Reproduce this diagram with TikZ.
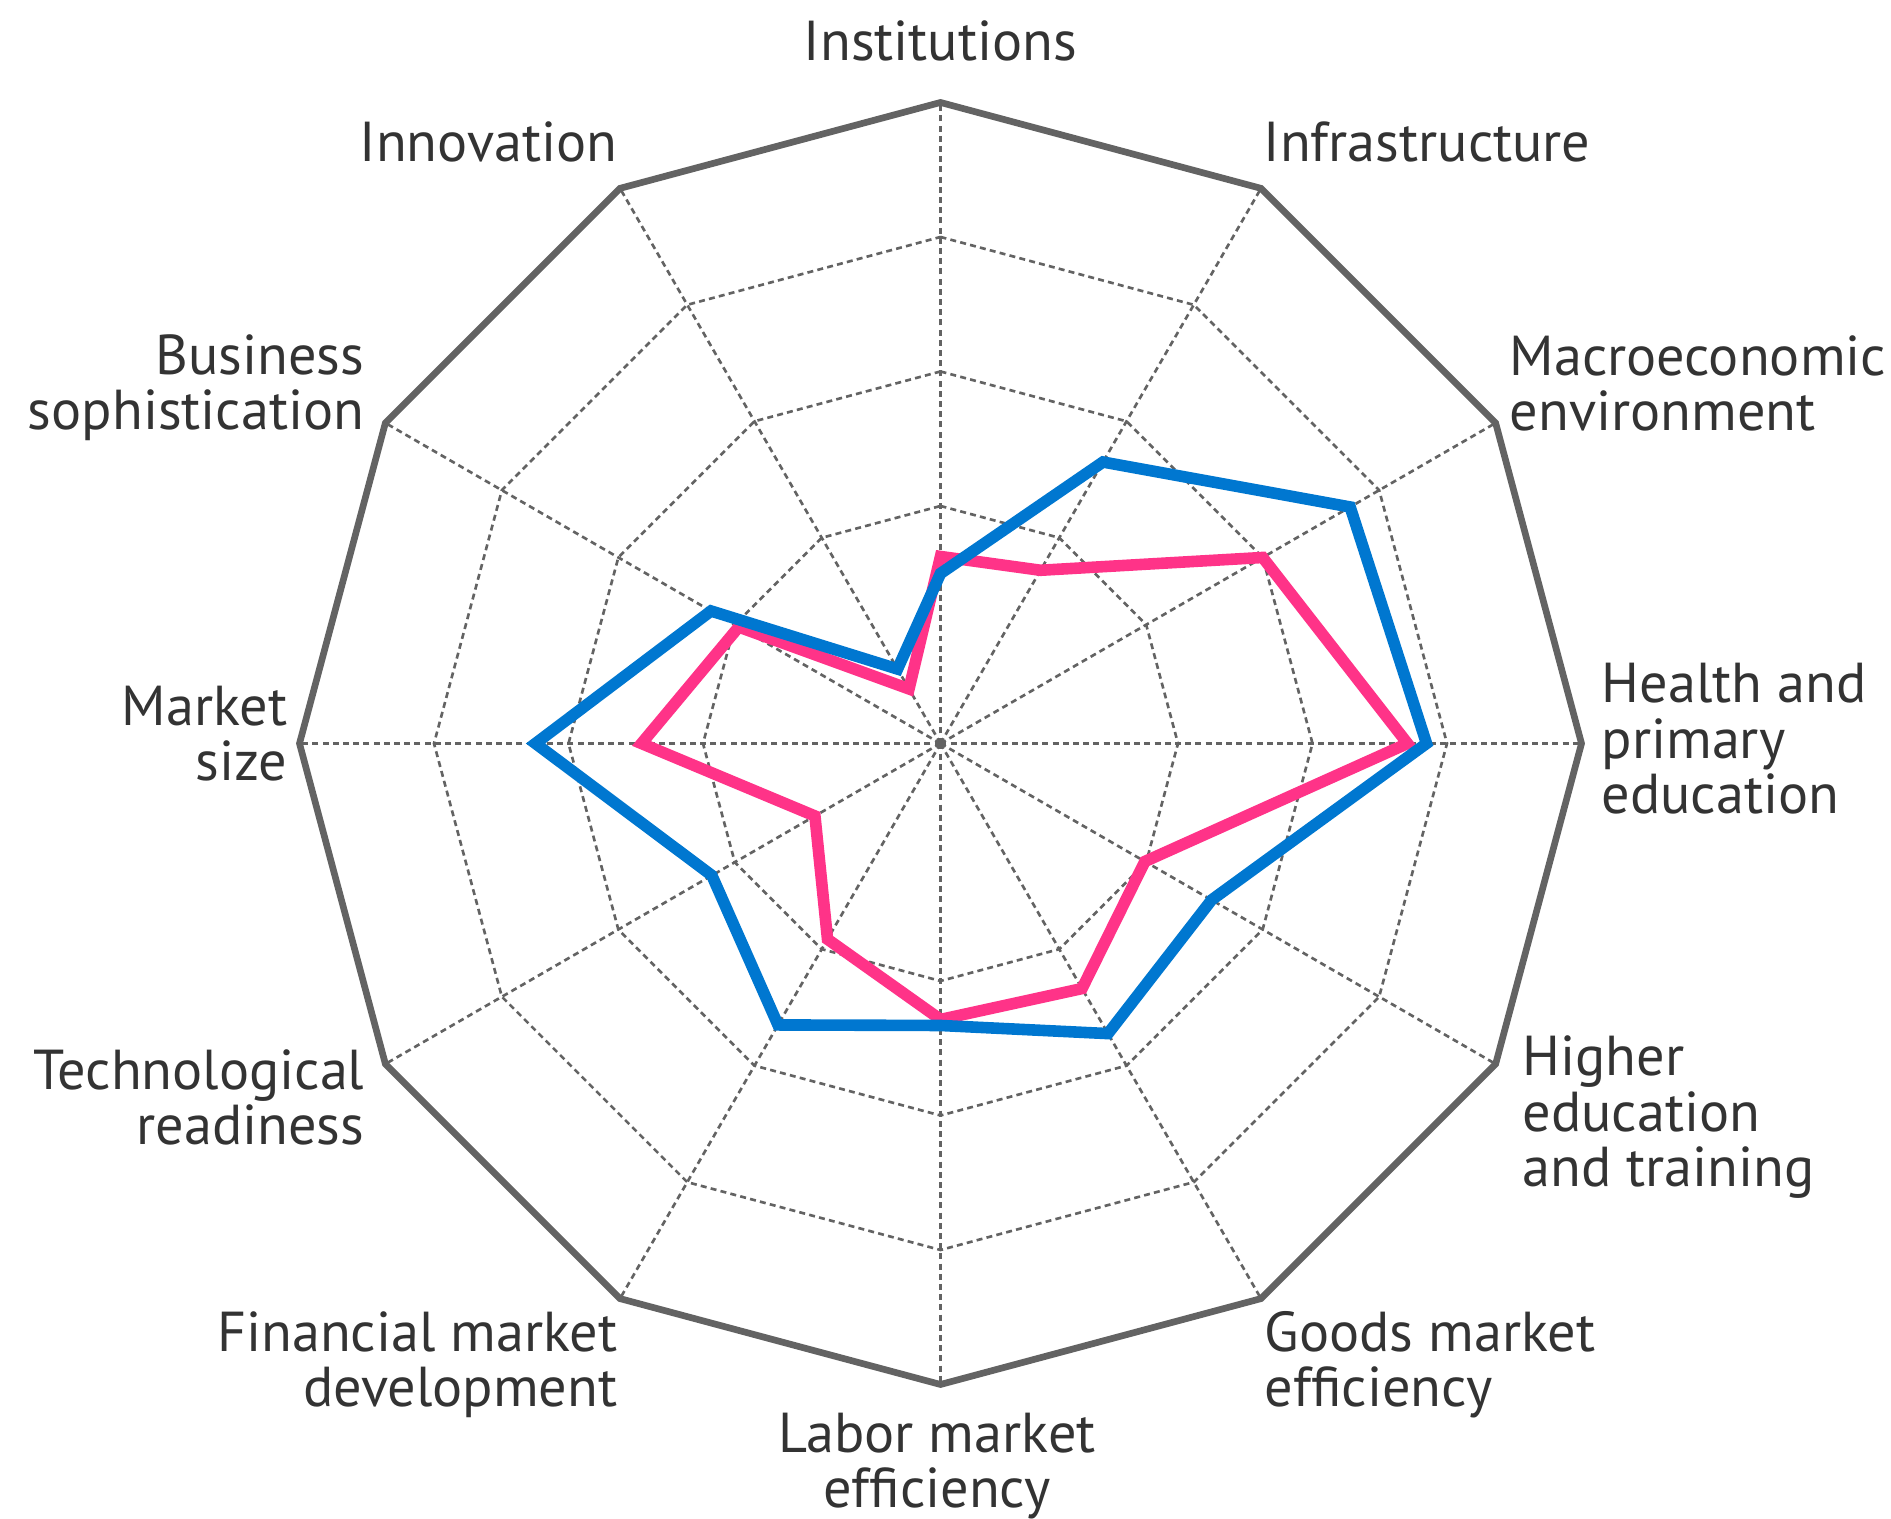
\documentclass[tikz,border=0pt]{standalone}
\usepackage{fontspec}
\setmainfont{PT Sans}
\definecolor{gciblue}{RGB}{0,119,208}
\definecolor{gcipink}{RGB}{255,51,136}
\definecolor{gridgray}{RGB}{99,99,99}
\definecolor{labelgray}{RGB}{51,51,51}
\tikzset{
	spoke/.style={draw=gridgray, line width=0.75pt, dash pattern=on 1.7pt off 1.2pt},
	rim/.style={draw=gridgray, line width=1.9pt, line join=miter},
	series/.style={line width=3.3pt, line join=miter},
	pillar/.style={text=labelgray, font=\fontsize{16}{15.9}\selectfont, inner sep=0pt},
}
\begin{document}
\begin{tikzpicture}[x=0.01cm, y=0.01cm]
		\useasboundingbox (0,0) rectangle (1891,1519);
		\begin{scope}[shift={(940.5,775.5)}]
		\foreach \i in {0,...,11}
		{
			\draw[spoke] (0,0) -- (90-30*\i:641);
		}
		\foreach \r in {237.5,372,506.5}
		{
			\draw[spoke] (90:\r) \foreach \i in {1,...,11} { -- (90-30*\i:\r) } -- cycle;
		}
		\draw[rim] (90:641) \foreach \i in {1,...,11} { -- (90-30*\i:641) } -- cycle;
		\foreach \v [count=\i from 0] in {187,200,372,467,236,283,276,226,145,299,233,63}
		{
			\coordinate (p\i) at (90-30*\i:\v);
		}
		\foreach \v [count=\i from 0] in {170,325,473,486,313,335,282,325,264,405,265,86}
		{
			\coordinate (b\i) at (90-30*\i:\v);
		}
		\draw[series, gcipink] (p0) \foreach \i in {1,...,11} { -- (p\i) } -- cycle;
		\draw[series, gciblue] (b0) \foreach \i in {1,...,11} { -- (b\i) } -- cycle;
		\end{scope}
		\node[pillar, anchor=base] (institutions) at (940.5,1458) {Institutions};
		\node[pillar, anchor=base west] (infrastructure) at (1263,1357) {Infrastructure};
		\node[pillar, anchor=base west, align=left] (macro) at (1509,1088) {Macroeconomic\\environment};
		\node[pillar, anchor=base west, align=left] (health) at (1601,705) {Health and\\primary\\education};
		\node[pillar, anchor=base west, align=left] (higher) at (1522,332) {Higher\\education\\and training};
		\node[pillar, anchor=base west, align=left] (goods) at (1264,112) {Goods market\\efficiency};
		\node[pillar, anchor=base, align=center] (labor) at (937,11) {Labor market\\efficiency};
		\node[pillar, anchor=base east, align=right] (financial) at (618,112) {Financial market\\development};
		\node[pillar, anchor=base east, align=right] (tech) at (365,374) {Technological\\readiness};
		\node[pillar, anchor=base east, align=right] (market) at (288,738) {Market\\size};
		\node[pillar, anchor=base east, align=right] (business) at (365,1089) {Business\\sophistication};
		\node[pillar, anchor=base east] (innovation) at (618,1357) {Innovation};
\end{tikzpicture}
\end{document}
